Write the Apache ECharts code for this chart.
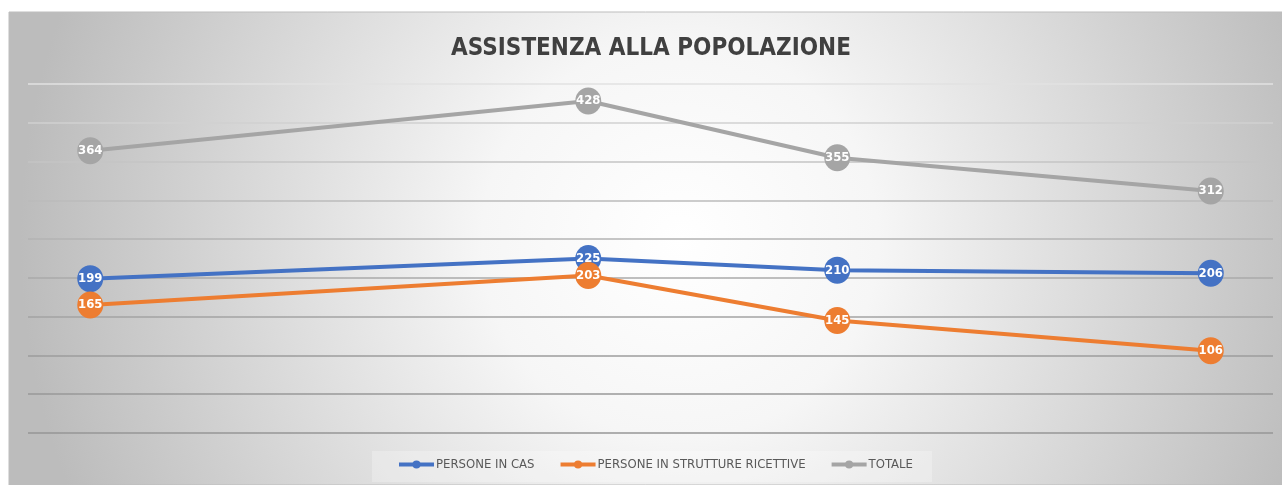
<!DOCTYPE html>
<html>
<head>
<meta charset="utf-8">
<script src="https://cdn.jsdelivr.net/npm/echarts@6/dist/echarts.min.js"></script>
<style>
html,body{margin:0;padding:0;background:#fff;}
#chart{width:1282px;height:485px;}
</style>
</head>
<body>
<div id="chart"></div>
<script>
// Data
const titleText = 'ASSISTENZA ALLA POPOLAZIONE';
const seriesNames = ['PERSONE IN CAS', 'PERSONE IN STRUTTURE RICETTIVE', 'TOTALE'];
const dayOffsets = [0, 4, 6, 9];          // relative position of each survey date (days)
const personeInCas = [199, 225, 210, 206];
const personeInStrutture = [165, 203, 145, 106];
const totale = [364, 428, 355, 312];
const seriesColors = ['#4472C4', '#ED7D31', '#A5A5A5'];

const chart = echarts.init(document.getElementById('chart'), null, {renderer: 'canvas'});
const FONT = '"DejaVu Sans Condensed", "Roboto", sans-serif';

function pairs(vals) { return vals.map((v, i) => [dayOffsets[i], v]); }

function mkSeries(name, vals, color) {
  return {
    name: name,
    type: 'line',
    data: pairs(vals),
    symbol: 'circle',
    symbolSize: [26, 27],
    showAllSymbol: true,
    lineStyle: {color: color, width: 4},
    itemStyle: {color: color},
    label: {
      show: true,
      position: 'inside',
      color: '#ffffff',
      fontFamily: FONT,
      fontWeight: 'bold',
      fontSize: 13
    },
    emphasis: {disabled: true},
    animation: false
  };
}

const option = {
  animation: false,
  graphic: [{
    type: 'rect',
    z: -10,
    silent: true,
    shape: {x: 9, y: 12, width: 1273, height: 473},
    style: {
      fill: new echarts.graphic.RadialGradient(680, 240, 660, [
        {offset: 0, color: '#ffffff'},
        {offset: 0.3, color: '#f6f6f6'},
        {offset: 1, color: '#bcbcbc'}
      ], true),
      stroke: '#bdbdbd',
      lineWidth: 1
    }
  }, {
    type: 'rect',
    z: -5,
    silent: true,
    shape: {x: 372, y: 451, width: 560, height: 31},
    style: {fill: 'rgba(255,255,255,0.25)'}
  }],
  title: {
    text: titleText,
    left: 646,
    textAlign: 'center',
    top: 32,
    textStyle: {
      fontFamily: FONT,
      fontWeight: 'bold',
      fontSize: 24,
      color: '#404040'
    }
  },
  legend: {
    data: seriesNames,
    bottom: 9,
    left: 392,
    itemWidth: 35,
    itemHeight: 10,
    itemGap: 24,
    lineStyle: {width: 4},
    textStyle: {fontFamily: FONT, fontSize: 13, color: '#595959', padding: [0, 0, 0, -3]}
  },
  grid: {left: 28, right: 9, top: 84, bottom: 52, containLabel: false},
  xAxis: {
    type: 'value',
    min: -0.5,
    max: 9.5,
    show: false,
    splitLine: {show: false}
  },
  yAxis: {
    type: 'value',
    min: 0,
    max: 450,
    interval: 50,
    axisLabel: {show: false},
    axisLine: {show: false},
    axisTick: {show: false},
    splitLine: {
      show: true,
      lineStyle: {
        width: 1.5,
        color: ['#969696', '#999999', '#9d9d9d', '#a3a3a3', '#aaaaaa', '#b3b3b3', '#bbbbbb', '#c5c5c5', '#d0d0d0', '#e2e2e2']
      }
    }
  },
  series: [
    mkSeries(seriesNames[0], personeInCas, seriesColors[0]),
    mkSeries(seriesNames[1], personeInStrutture, seriesColors[1]),
    mkSeries(seriesNames[2], totale, seriesColors[2])
  ]
};
chart.setOption(option);
</script>
</body>
</html>
